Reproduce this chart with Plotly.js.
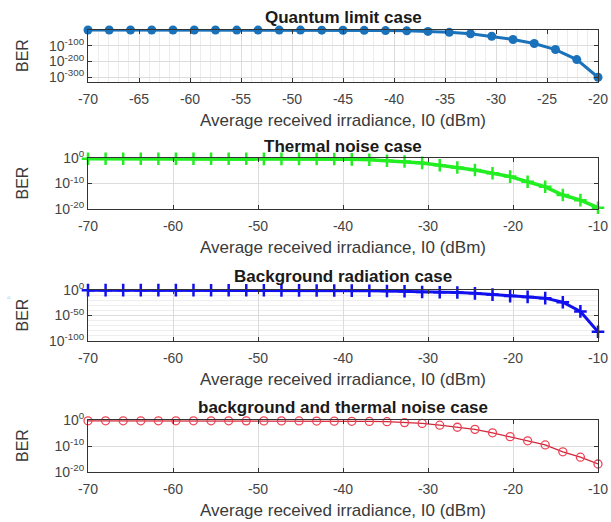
<!DOCTYPE html>
<html><head><meta charset="utf-8">
<script src="https://cdn.plot.ly/plotly-3.0.1.min.js"></script>
<style>html,body{margin:0;padding:0;background:#fff}#chart{width:611px;height:522px}</style>
</head><body><div id="chart"></div>
<script>
// ---- data ----
const panelTitles = ["Quantum limit case", "Thermal noise case", "Background radiation case", "background and thermal noise case"];
const xAxisLabel = "Average received irradiance, I0 (dBm)";
const yAxisLabel = "BER";

const quantumX = [-70, -67.92, -65.83, -63.75, -61.67, -59.58, -57.5, -55.42, -53.33, -51.25, -49.17, -47.08, -45, -42.92, -40.83, -38.75, -36.67, -34.58, -32.5, -30.42, -28.33, -26.25, -24.17, -22.08, -20];
const quantumBER = [0.5, 0.5, 0.49, 0.49, 0.48, 0.47, 0.46, 0.44, 0.4, 0.32, 0.2, 0.1, 0.03, 5e-3, 3e-4, 3e-6, 1e-9, 1e-15, 1e-24, 1e-40, 1e-60, 1e-86, 1e-124, 1e-188, 1e-300];

const thermalX = [-70, -67.93, -65.86, -63.79, -61.72, -59.66, -57.59, -55.52, -53.45, -51.38, -49.31, -47.24, -45.17, -43.10, -41.03, -38.97, -36.90, -34.83, -32.76, -30.69, -28.62, -26.55, -24.48, -22.41, -20.34, -18.28, -16.21, -14.14, -12.07, -10];
const thermalBER = [0.5, 0.5, 0.5, 0.5, 0.5, 0.49, 0.49, 0.49, 0.48, 0.48, 0.47, 0.46, 0.45, 0.42, 0.38, 0.3, 0.2, 0.08, 0.04, 0.012, 1.5e-3, 2e-4, 2e-5, 1e-6, 5e-8, 5e-10, 5e-12, 3e-15, 3e-17, 3e-20];

const backgroundX = [-70, -67.93, -65.86, -63.79, -61.72, -59.66, -57.59, -55.52, -53.45, -51.38, -49.31, -47.24, -45.17, -43.10, -41.03, -38.97, -36.90, -34.83, -32.76, -30.69, -28.62, -26.55, -24.48, -22.41, -20.34, -18.28, -16.21, -14.14, -12.07, -10];
const backgroundBER = [0.5, 0.5, 0.5, 0.49, 0.49, 0.48, 0.47, 0.45, 0.42, 0.38, 0.3, 0.22, 0.16, 0.13, 0.08, 0.05, 0.025, 0.01, 3e-3, 1e-4, 3e-5, 1e-5, 3e-7, 1e-9, 1e-12, 3e-14, 1e-16, 1e-24, 1e-42, 1e-82];

const combinedX = [-70, -67.93, -65.86, -63.79, -61.72, -59.66, -57.59, -55.52, -53.45, -51.38, -49.31, -47.24, -45.17, -43.10, -41.03, -38.97, -36.90, -34.83, -32.76, -30.69, -28.62, -26.55, -24.48, -22.41, -20.34, -18.28, -16.21, -14.14, -12.07, -10];
const combinedBER = [0.5, 0.5, 0.5, 0.5, 0.49, 0.49, 0.49, 0.48, 0.48, 0.47, 0.46, 0.45, 0.43, 0.4, 0.36, 0.32, 0.28, 0.22, 0.1, 0.05, 0.01, 1.6e-3, 2.5e-4, 1.2e-5, 4e-7, 1e-8, 2.5e-10, 6e-13, 5e-15, 1.2e-17];

const xTickVals = [[-70, -65, -60, -55, -50, -45, -40, -35, -30, -25, -20], [-70, -60, -50, -40, -30, -20, -10], [-70, -60, -50, -40, -30, -20, -10], [-70, -60, -50, -40, -30, -20, -10]];
const xTickText = [["-70", "-65", "-60", "-55", "-50", "-45", "-40", "-35", "-30", "-25", "-20"], ["-70", "-60", "-50", "-40", "-30", "-20", "-10"], ["-70", "-60", "-50", "-40", "-30", "-20", "-10"], ["-70", "-60", "-50", "-40", "-30", "-20", "-10"]];
const yTickVals = [[1e-300, 1e-200, 1e-100], [1e-20, 1e-10, 1], [1e-100, 1e-50, 1], [1e-20, 1e-10, 1]];
const yTickText = [["10<sup>-300</sup>", "10<sup>-200</sup>", "10<sup>-100</sup>"], ["10<sup>-20</sup>", "10<sup>-10</sup>", "10<sup>0</sup>"], ["10<sup>-100</sup>", "10<sup>-50</sup>", "10<sup>0</sup>"], ["10<sup>-20</sup>", "10<sup>-10</sup>", "10<sup>0</sup>"]];

// ---- layout helpers ----
const W = 611, H = 522;
const FONT = "Liberation Sans, Arial, sans-serif";
const boxes = [[30, 82], [158, 209], [290, 341], [420, 472]];   // top, bottom (px)
const titleY = [17, 147, 276, 407];
const xRanges = [[-70, -20], [-70, -10], [-70, -10], [-70, -10]];
const yRanges = [[-330, 0], [-20, 0], [-100, 0], [-20, 0]];
const xDom = [88 / W, 598 / W];

const series = [
  {x: quantumX, y: quantumBER, color: "#1a72bb", marker: {symbol: "circle", size: 9, color: "#1a72bb"}, width: 3},
  {x: thermalX, y: thermalBER, color: "#22ee22", marker: {symbol: "cross-thin-open", size: 9, line: {width: 2.5, color: "#22ee22"}}, width: 3.5},
  {x: backgroundX, y: backgroundBER, color: "#1111ee", marker: {symbol: "cross-thin-open", size: 9, line: {width: 2.5, color: "#1111ee"}}, width: 3},
  {x: combinedX, y: combinedBER, color: "#d0283a", marker: {symbol: "circle-open", size: 8, color: "#ee4455", line: {width: 1.3, color: "#ee4455"}}, width: 1.3}
];

const data = [];
const layout = {
  width: W, height: H, margin: {l: 0, r: 0, t: 0, b: 0},
  paper_bgcolor: "#ffffff", plot_bgcolor: "#ffffff",
  showlegend: false, font: {family: FONT, size: 14, color: "#444444"},
  annotations: []
};

series.forEach((s, i) => {
  const n = i + 1;
  const sfx = n === 1 ? "" : String(n);
  data.push({
    type: "scatter", mode: "lines+markers", x: s.x, y: s.y,
    xaxis: "x" + sfx, yaxis: "y" + sfx,
    line: {color: s.color, width: s.width}, marker: s.marker, cliponaxis: false
  });
  const [top, bot] = boxes[i];
  layout["xaxis" + sfx] = {
    domain: xDom, anchor: "y" + sfx, range: xRanges[i],
    tickmode: "array", tickvals: xTickVals[i], ticktext: xTickText[i],
    showline: true, mirror: "ticks", linecolor: "#333333", linewidth: 1,
    ticks: "inside", ticklen: 4, tickcolor: "#333333", ticklabelstandoff: 4,
    showgrid: true, gridcolor: "#dcdcdc", gridwidth: 1, zeroline: false,
    tickfont: {family: FONT, size: 14, color: "#444444"},
    title: {text: xAxisLabel, font: {family: FONT, size: 17, color: "#3a3a3a"}, standoff: 8},
    automargin: false
  };
  if (i === 0) layout.xaxis.minor = {dtick: 1, tick0: -70, showgrid: true, gridcolor: "#ececec", ticks: ""};
  layout["yaxis" + sfx] = {
    domain: [1 - bot / H, 1 - top / H], anchor: "x" + sfx, type: "log", range: yRanges[i],
    tickmode: "array", tickvals: yTickVals[i], ticktext: yTickText[i],
    showline: true, mirror: "ticks", linecolor: "#333333", linewidth: 1,
    ticks: "inside", ticklen: 4, tickcolor: "#333333",
    showgrid: true, gridcolor: "#dcdcdc", zeroline: false,
    tickfont: {family: FONT, size: 14, color: "#444444"},
    automargin: false
  };
  if (i === 2) layout.yaxis3.minor = {tickvals: [1e-90, 1e-80, 1e-70, 1e-60, 1e-40, 1e-30, 1e-20, 1e-10], showgrid: true, gridcolor: "#eeeeee", ticks: ""};
  layout.annotations.push({
    text: "<b>" + panelTitles[i] + "</b>", xref: "paper", yref: "paper",
    x: (xDom[0] + xDom[1]) / 2, y: 1 - titleY[i] / H, xanchor: "center", yanchor: "middle",
    showarrow: false, font: {family: FONT, size: 17, color: "#1a1a1a"}
  });
  layout.annotations.push({
    text: yAxisLabel, xref: "paper", yref: "paper", textangle: -90,
    x: 22 / W, y: 1 - (top + bot) / 2 / H, xanchor: "center", yanchor: "middle",
    showarrow: false, font: {family: FONT, size: 16, color: "#3a3a3a"}
  });
});
layout.annotations.push({text: "▫", xref: "paper", yref: "paper", x: 5 / W, y: 1 - 297 / H,
  showarrow: false, font: {family: FONT, size: 10, color: "#7fb3d9"}});

Plotly.newPlot("chart", data, layout, {staticPlot: true, displayModeBar: false});
</script>
</body></html>
